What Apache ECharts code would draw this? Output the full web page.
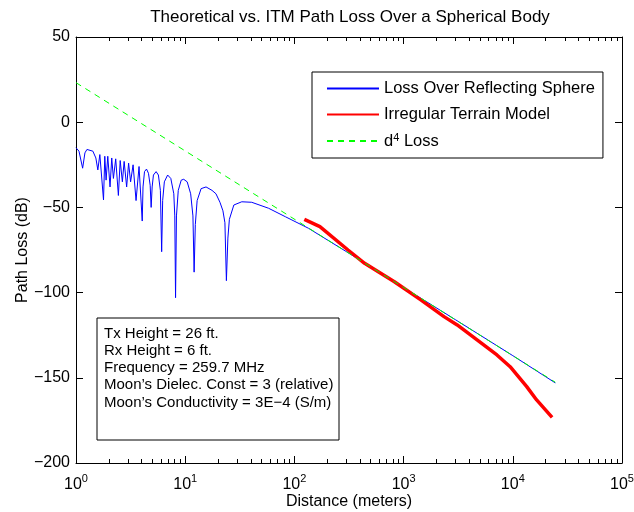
<!DOCTYPE html>
<html>
<head>
<meta charset="utf-8">
<script src="https://cdn.jsdelivr.net/npm/echarts@6/dist/echarts.min.js"></script>
<style>html,body{margin:0;padding:0;background:#fff}#c{width:634px;height:512px}</style>
</head>
<body>
<div id="c"></div>
<script>
// ---- data ----
var sphereDist = [1.0,1.065,1.150,1.207,1.259,1.427,1.520,1.585,1.653,1.786,1.835,1.886,1.954,2.050,2.125,2.201,2.310,2.444,2.539,2.658,2.760,2.909,3.032,3.162,3.333,3.548,3.778,4.041,4.109,4.240,4.421,4.610,4.777,4.878,4.981,5.118,5.415,5.682,5.925,6.088,6.217,6.443,6.905,7.383,7.864,8.030,8.161,8.318,8.638,9.197,9.691,10.43,11.22,11.77,12.07,12.38,12.86,13.98,15.52,17.60,19.13,20.81,22.16,23.10,23.84,24.60,25.39,27.89,32.98,40.66,58.02,82.83,134.1,300,1000,3000,10000,24500];
var sphereLoss = [-15,-17,-27,-18,-16,-17,-21,-28,-19,-45.6,-20,-34,-20,-38,-21,-33,-21.5,-43,-22.5,-35,-23,-38,-24,-35,-25,-46,-26,-58,-38,-29,-27.5,-30,-37,-50,-38,-31,-29,-31,-40,-76,-46,-35,-31,-33,-42,-55,-103,-55,-40,-34,-33.5,-35,-42,-55,-88,-60,-46,-39,-38,-40,-42,-47,-52,-59,-93,-68,-57,-48.6,-46.7,-47,-50.5,-55.5,-62.2,-76,-97,-116,-137,-153];
var itmDist = [123.3,171.2,309.7,439.3,823.4,1437,2344,3097,4707,7154,9451,13410,16530,22900];
var itmLoss = [-57,-61.3,-75,-82.8,-93.6,-104.3,-114.1,-119,-127.8,-136.6,-143.5,-155.2,-163,-173.2];
var d4Dist = [1, 24500];
var d4Loss = [23.2, -152.6];
var xMajor = [1, 10, 100, 1000, 10000, 100000];
var xMinor = [2,3,4,5,6,7,8,9,20,30,40,50,60,70,80,90,200,300,400,500,600,700,800,900,2000,3000,4000,5000,6000,7000,8000,9000,20000,30000,40000,50000,60000,70000,80000,90000];
var yTicks = [-200, -150, -100, -50, 0, 50];
var infoLines = ["Tx Height = 26 ft.", "Rx Height = 6 ft.", "Frequency = 259.7 MHz", "Moon\u2019s Dielec. Const = 3 (relative)", "Moon\u2019s Conductivity = 3E\u22124 (S/m)"];
var seriesNames = ["Loss Over Reflecting Sphere", "Irregular Terrain Model", "d4 Loss"];

function zip(a, b) { return a.map(function (v, i) { return [v, b[i]]; }); }

var FONT = '"Liberation Sans", Arial, Helvetica, sans-serif';
var chart = echarts.init(document.getElementById('c'), null, { renderer: 'canvas' });

function xAxisBase(pos, minor) {
  return {
    type: 'log', logBase: 10, min: 1, max: 100000, position: pos,
    axisLine: { show: !minor, onZero: false, lineStyle: { color: '#000', width: 1 } },
    axisTick: minor ? { show: true, inside: true, length: 4, customValues: xMinor, lineStyle: { color: '#000' } }
                    : { show: true, inside: true, length: 7, lineStyle: { color: '#000' } },
    axisLabel: { show: false },
    splitLine: { show: false }
  };
}

var xAxes = [xAxisBase('bottom', false), xAxisBase('bottom', true), xAxisBase('top', false), xAxisBase('top', true)];
xAxes[0].axisLabel = {
  show: true, margin: 10, color: '#000', fontFamily: FONT, fontSize: 16,
  customValues: xMajor,
  formatter: function (v) { return '{b|10}{s|' + Math.round(Math.log10(v)) + '}'; },
  rich: { b: { fontSize: 16, fontFamily: FONT, color: '#000', lineHeight: 20, verticalAlign: 'bottom' },
          s: { fontSize: 11, fontFamily: FONT, color: '#000', lineHeight: 20, verticalAlign: 'top' } }
};
xAxes[0].name = 'Distance (meters)';
xAxes[0].nameLocation = 'middle';
xAxes[0].nameGap = 31;
xAxes[0].nameMoveOverlap = false;
xAxes[0].nameTextStyle = { color: '#000', fontFamily: FONT, fontSize: 16 };

function yAxisBase(pos, labels) {
  return {
    type: 'value', min: -200, max: 50, interval: 50, position: pos,
    axisLine: { show: true, onZero: false, lineStyle: { color: '#000' } },
    axisTick: { show: true, inside: true, length: 7, lineStyle: { color: '#000' } },
    axisLabel: labels ? { show: true, margin: 6, color: '#000', fontFamily: FONT, fontSize: 16,
      formatter: function (v) { return String(v).replace('-', '\u2212'); } } : { show: false },
    splitLine: { show: false }
  };
}
var yAxes = [yAxisBase('left', true), yAxisBase('right', false)];
yAxes[0].name = 'Path Loss (dB)';
yAxes[0].nameLocation = 'middle';
yAxes[0].nameGap = 45;
yAxes[0].nameMoveOverlap = false;
yAxes[0].nameTextStyle = { color: '#000', fontFamily: FONT, fontSize: 16 };

var option = {
  animation: false,
  backgroundColor: '#fff',
  grid: { left: 76, right: 12, top: 37, bottom: 49, containLabel: false, outerBoundsMode: 'none' },
  xAxis: xAxes,
  yAxis: yAxes,
  legend: {
    orient: 'vertical', left: 312, top: 72,
    padding: [8, 8, 8, 14], itemGap: 9,
    itemWidth: 52, itemHeight: 14,
    borderColor: '#000', borderWidth: 1, backgroundColor: '#fff',
    data: seriesNames,
    itemStyle: { opacity: 0 },
    textStyle: { color: '#000', fontFamily: FONT, fontSize: 16.5,
      rich: { n: { fontSize: 16.5, fontFamily: FONT, color: '#000', lineHeight: 18, verticalAlign: 'bottom' },
              sup: { fontSize: 11, fontFamily: FONT, color: '#000', lineHeight: 18, verticalAlign: 'top' } } },
    formatter: function (n) { return n === 'd4 Loss' ? '{n|d}{sup|4}{n| Loss}' : n; }
  },
  graphic: [
    { type: 'text', x: 350, y: 9, style: { text: 'Theoretical vs. ITM Path Loss Over a Spherical Body', fill: '#000', font: '17px ' + FONT, textAlign: 'center' } },
    { type: 'rect', shape: { x: 97, y: 318, width: 242, height: 122 }, style: { fill: '#fff', stroke: '#000', lineWidth: 1 }, z: 10 },
    { type: 'text', x: 104, y: 325, z: 11, style: { text: infoLines.join('\n'), fill: '#000', font: '15px ' + FONT, lineHeight: 17.2 } }
  ],
  series: [
    { name: seriesNames[0], type: 'line', xAxisIndex: 0, yAxisIndex: 0, data: zip(sphereDist, sphereLoss), symbol: 'none', lineStyle: { color: '#0000ff', width: 1 }, itemStyle: { color: '#0000ff' } },
    { name: seriesNames[1], type: 'line', xAxisIndex: 0, yAxisIndex: 0, data: zip(itmDist, itmLoss), symbol: 'none', lineStyle: { color: '#ff0000', width: 3.5 }, itemStyle: { color: '#ff0000' } },
    { name: seriesNames[2], type: 'line', xAxisIndex: 0, yAxisIndex: 0, data: zip(d4Dist, d4Loss), symbol: 'none', lineStyle: { color: '#00ff00', width: 1, type: [6, 5] }, itemStyle: { color: '#00ff00' } }
  ]
};
chart.setOption(option);
</script>
</body>
</html>
